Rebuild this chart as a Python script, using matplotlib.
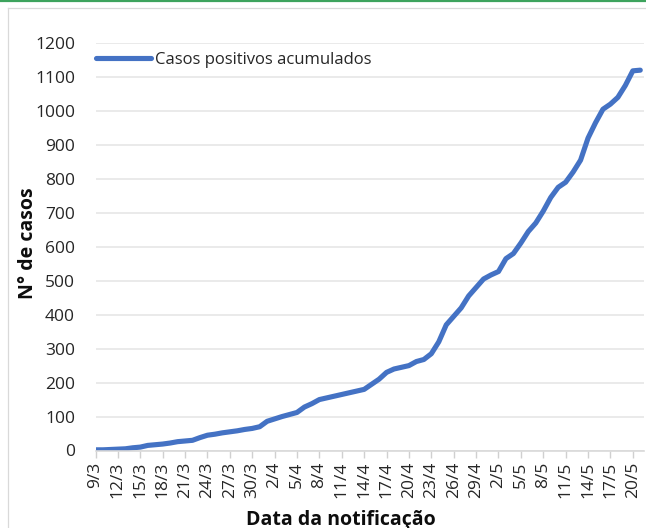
import matplotlib
matplotlib.use("Agg")
import matplotlib.pyplot as plt
from matplotlib.lines import Line2D
import numpy as np

# cumulative positive cases, one value per day from 9/3 to 21/5
cases = [2, 2, 3, 4, 5, 8, 10, 15, 17, 19, 22, 26, 28, 30, 38, 45, 48, 52, 55, 58, 62, 65, 70,
         86, 93, 100, 106, 112, 128, 138, 150, 155, 160, 165, 170, 175, 180, 195, 210, 230, 240,
         245, 250, 262, 268, 285, 320, 370, 395, 420, 455, 480, 505,
         517, 527, 565, 580, 611, 645, 670, 705, 745, 775, 790, 820, 855, 920, 965, 1005, 1020,
         1040, 1075, 1118, 1120]
tick_labels = ['9/3', '12/3', '15/3', '18/3', '21/3', '24/3', '27/3', '30/3', '2/4', '5/4',
               '8/4', '11/4', '14/4', '17/4', '20/4', '23/4', '26/4', '29/4', '2/5', '5/5',
               '8/5', '11/5', '14/5', '17/5', '20/5']
y_ticks = [0, 100, 200, 300, 400, 500, 600, 700, 800, 900, 1000, 1100, 1200]
series_name = 'Casos positivos acumulados'

plt.rcParams['font.family'] = ['Open Sans', 'DejaVu Sans']
W, H = 646, 528
fig = plt.figure(figsize=(W / 100, H / 100), dpi=100)

left, right, top, bottom = 95.5, 644, 43, 450.5
ax = fig.add_axes([left / W, 1 - bottom / H, (right - left) / W, (bottom - top) / H])

days = np.arange(len(cases))
ax.plot(days, cases, color='#4472C4', lw=3.7, solid_capstyle='round',
        solid_joinstyle='round', label=series_name)

ax.set_ylim(0, 1200)
ax.set_xlim(0, 73.5)
ax.set_yticks(y_ticks)
ax.set_yticklabels([str(v) for v in y_ticks])
ax.set_xticks(days[::3][:len(tick_labels)])
ax.set_xticklabels(tick_labels, rotation=90)
ax.grid(axis='y', color='#e6e6e6', lw=1.2)
ax.set_axisbelow(True)
for s in ['top', 'right', 'left']:
    ax.spines[s].set_visible(False)
ax.spines['bottom'].set_color('#d9d9d9')
ax.spines['bottom'].set_linewidth(1.2)
ax.tick_params(axis='x', length=5, width=1, color='#d0d0d0', pad=3, labelsize=12.5,
               labelcolor='#262626')
ax.tick_params(axis='y', length=0, pad=14.8, labelsize=12.5, labelcolor='#262626')

leg = ax.legend(loc='center left', bbox_to_anchor=(0, (bottom - 60) / (bottom - top)),
                frameon=False, fontsize=12, handlelength=3.3, handletextpad=0.25,
                borderpad=0, borderaxespad=0)
for t in leg.get_texts():
    t.set_color('#262626')

fig.text(341 / W, 1 - 525 / H, 'Data da notificação', ha='center', va='baseline',
         fontsize=14, fontweight='bold', color='#0d0d0d')
fig.text(33 / W, 1 - 243.5 / H, 'N° de casos', ha='center', va='baseline', rotation=90,
         rotation_mode='anchor', fontsize=14, fontweight='bold', color='#0d0d0d')

# frame decorations
fig.add_artist(Line2D([0, 1], [1 - 1 / H, 1 - 1 / H], transform=fig.transFigure,
                      color='#3da35d', lw=1.6))
fig.add_artist(Line2D([7.5 / W, 7.5 / W], [0, 1 - 7.5 / H], transform=fig.transFigure,
                      color='#d9d9d9', lw=0.9))
fig.add_artist(Line2D([7.5 / W, 1], [1 - 7.5 / H, 1 - 7.5 / H], transform=fig.transFigure,
                      color='#d9d9d9', lw=0.9))

fig.savefig('out.png', dpi=100)
